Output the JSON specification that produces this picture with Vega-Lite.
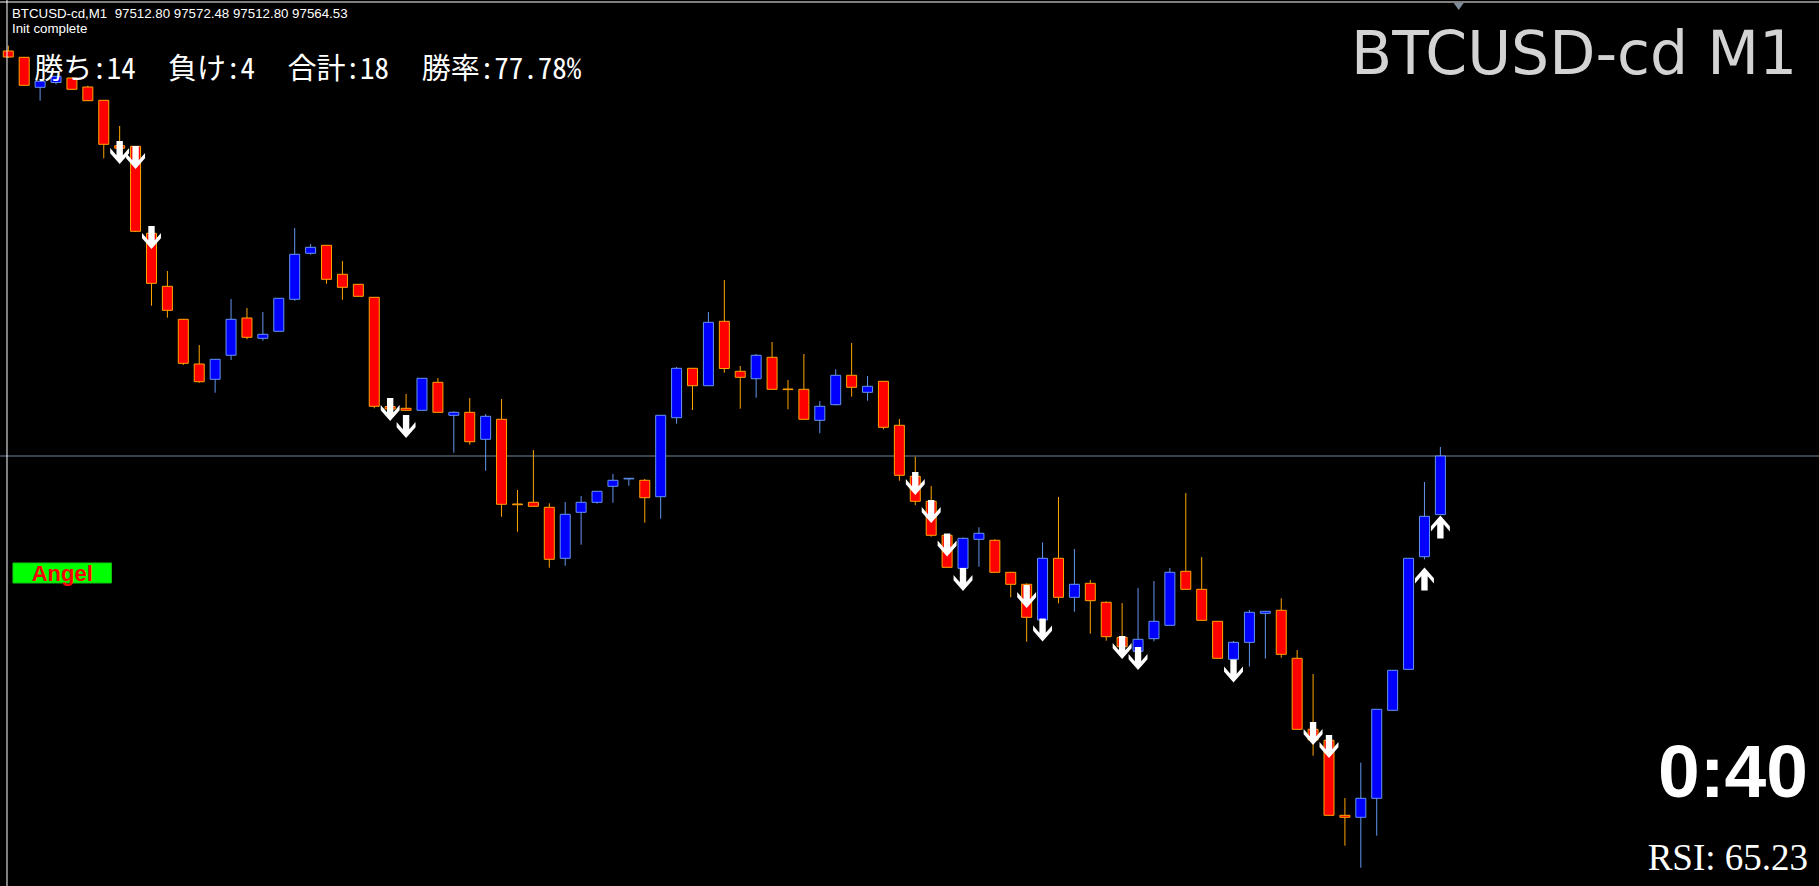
{
  "$schema": "https://vega.github.io/schema/vega-lite/v6.json",
  "width": 1819,
  "height": 886,
  "autosize": {"type": "none"},
  "padding": 0,
  "background": "#000000",
  "config": {"view": {"stroke": null}},
  "datasets": {
    "candles": [
      {"i": -1, "open": 97922.06, "high": 97926.74, "low": 97915.88, "close": 97916.77},
      {"i": 0, "open": 97916.50, "high": 97916.77, "low": 97891.61, "close": 97891.78},
      {"i": 1, "open": 97890.02, "high": 97895.58, "low": 97878.19, "close": 97895.31},
      {"i": 2, "open": 97894.26, "high": 97899.99, "low": 97892.67, "close": 97899.73},
      {"i": 3, "open": 97898.23, "high": 97898.67, "low": 97888.08, "close": 97888.25},
      {"i": 4, "open": 97890.28, "high": 97891.43, "low": 97877.92, "close": 97878.19},
      {"i": 5, "open": 97878.54, "high": 97878.81, "low": 97827.34, "close": 97839.70},
      {"i": 6, "open": 97838.46, "high": 97855.85, "low": 97834.67, "close": 97836.17},
      {"i": 7, "open": 97837.93, "high": 97838.20, "low": 97762.28, "close": 97762.90},
      {"i": 8, "open": 97761.13, "high": 97761.39, "low": 97697.21, "close": 97716.99},
      {"i": 9, "open": 97714.34, "high": 97727.85, "low": 97686.62, "close": 97693.15},
      {"i": 10, "open": 97685.21, "high": 97685.47, "low": 97644.86, "close": 97646.37},
      {"i": 11, "open": 97645.75, "high": 97662.52, "low": 97629.24, "close": 97630.12},
      {"i": 12, "open": 97632.24, "high": 97650.16, "low": 97620.41, "close": 97649.90},
      {"i": 13, "open": 97653.43, "high": 97703.13, "low": 97649.28, "close": 97685.21},
      {"i": 14, "open": 97686.36, "high": 97695.18, "low": 97667.55, "close": 97669.32},
      {"i": 15, "open": 97668.44, "high": 97691.65, "low": 97666.32, "close": 97671.97},
      {"i": 16, "open": 97674.61, "high": 97704.01, "low": 97674.44, "close": 97703.75},
      {"i": 17, "open": 97702.86, "high": 97765.81, "low": 97701.63, "close": 97742.59},
      {"i": 18, "open": 97743.47, "high": 97751.68, "low": 97742.24, "close": 97748.77},
      {"i": 19, "open": 97750.54, "high": 97750.80, "low": 97716.64, "close": 97720.52},
      {"i": 20, "open": 97724.93, "high": 97736.68, "low": 97702.51, "close": 97713.46},
      {"i": 21, "open": 97716.11, "high": 97716.37, "low": 97705.34, "close": 97705.51},
      {"i": 22, "open": 97704.63, "high": 97704.90, "low": 97606.64, "close": 97608.41},
      {"i": 23, "open": 97608.23, "high": 97610.44, "low": 97605.14, "close": 97606.02},
      {"i": 24, "open": 97606.64, "high": 97619.26, "low": 97604.70, "close": 97604.87},
      {"i": 25, "open": 97604.87, "high": 97633.39, "low": 97604.70, "close": 97633.12},
      {"i": 26, "open": 97629.59, "high": 97633.39, "low": 97602.93, "close": 97603.11},
      {"i": 27, "open": 97600.46, "high": 97603.99, "low": 97567.44, "close": 97603.11},
      {"i": 28, "open": 97603.11, "high": 97615.73, "low": 97574.51, "close": 97577.15},
      {"i": 29, "open": 97579.27, "high": 97601.61, "low": 97551.55, "close": 97599.58},
      {"i": 30, "open": 97596.93, "high": 97614.85, "low": 97510.94, "close": 97521.89},
      {"i": 31, "open": 97522.16, "high": 97534.51, "low": 97497.70, "close": 97521.50},
      {"i": 32, "open": 97523.66, "high": 97569.83, "low": 97519.95, "close": 97520.12},
      {"i": 33, "open": 97519.24, "high": 97522.77, "low": 97465.92, "close": 97473.34},
      {"i": 34, "open": 97474.22, "high": 97523.92, "low": 97467.69, "close": 97513.06},
      {"i": 35, "open": 97514.83, "high": 97529.22, "low": 97486.23, "close": 97523.66},
      {"i": 36, "open": 97523.66, "high": 97533.63, "low": 97522.42, "close": 97533.37},
      {"i": 37, "open": 97537.78, "high": 97548.64, "low": 97523.30, "close": 97543.08},
      {"i": 38, "open": 97544.30, "high": 97544.84, "low": 97538.31, "close": 97544.84},
      {"i": 39, "open": 97543.08, "high": 97544.23, "low": 97505.65, "close": 97527.72},
      {"i": 40, "open": 97528.60, "high": 97600.72, "low": 97509.18, "close": 97600.46},
      {"i": 41, "open": 97598.34, "high": 97643.10, "low": 97593.04, "close": 97641.95},
      {"i": 42, "open": 97641.95, "high": 97642.22, "low": 97605.14, "close": 97626.59},
      {"i": 43, "open": 97626.59, "high": 97691.65, "low": 97626.33, "close": 97682.56},
      {"i": 44, "open": 97683.44, "high": 97719.90, "low": 97638.07, "close": 97641.78},
      {"i": 45, "open": 97639.30, "high": 97643.98, "low": 97606.29, "close": 97634.01},
      {"i": 46, "open": 97632.77, "high": 97654.58, "low": 97616.00, "close": 97653.43},
      {"i": 47, "open": 97651.66, "high": 97665.17, "low": 97623.24, "close": 97623.41},
      {"i": 48, "open": 97623.68, "high": 97631.62, "low": 97605.76, "close": 97623.15},
      {"i": 49, "open": 97623.41, "high": 97654.58, "low": 97596.75, "close": 97596.93},
      {"i": 50, "open": 97596.05, "high": 97613.08, "low": 97584.57, "close": 97608.41},
      {"i": 51, "open": 97609.82, "high": 97641.07, "low": 97609.29, "close": 97635.77},
      {"i": 52, "open": 97635.77, "high": 97664.29, "low": 97616.88, "close": 97625.18},
      {"i": 53, "open": 97620.76, "high": 97635.15, "low": 97613.35, "close": 97626.06},
      {"i": 54, "open": 97630.48, "high": 97630.74, "low": 97588.10, "close": 97589.87},
      {"i": 55, "open": 97591.63, "high": 97597.19, "low": 97542.72, "close": 97547.49},
      {"i": 56, "open": 97546.61, "high": 97563.91, "low": 97521.01, "close": 97524.54},
      {"i": 57, "open": 97524.54, "high": 97538.05, "low": 97493.29, "close": 97494.52},
      {"i": 58, "open": 97494.52, "high": 97494.79, "low": 97466.10, "close": 97466.27},
      {"i": 59, "open": 97465.39, "high": 97492.58, "low": 97465.21, "close": 97491.88},
      {"i": 60, "open": 97490.99, "high": 97501.59, "low": 97466.80, "close": 97496.29},
      {"i": 61, "open": 97490.11, "high": 97490.99, "low": 97461.68, "close": 97461.86},
      {"i": 62, "open": 97461.86, "high": 97462.13, "low": 97439.79, "close": 97451.27},
      {"i": 63, "open": 97451.27, "high": 97452.15, "low": 97400.59, "close": 97422.13},
      {"i": 64, "open": 97419.75, "high": 97488.34, "low": 97419.49, "close": 97474.22},
      {"i": 65, "open": 97474.22, "high": 97528.34, "low": 97434.49, "close": 97439.79},
      {"i": 66, "open": 97439.79, "high": 97482.43, "low": 97427.08, "close": 97451.27},
      {"i": 67, "open": 97452.15, "high": 97455.06, "low": 97407.66, "close": 97436.79},
      {"i": 68, "open": 97435.38, "high": 97436.26, "low": 97401.48, "close": 97405.01},
      {"i": 69, "open": 97404.48, "high": 97434.76, "low": 97395.92, "close": 97396.18},
      {"i": 70, "open": 97392.12, "high": 97448.00, "low": 97391.94, "close": 97402.71},
      {"i": 71, "open": 97403.24, "high": 97454.18, "low": 97400.95, "close": 97418.60},
      {"i": 72, "open": 97415.07, "high": 97465.66, "low": 97414.90, "close": 97461.86},
      {"i": 73, "open": 97462.74, "high": 97531.87, "low": 97446.68, "close": 97446.85},
      {"i": 74, "open": 97446.85, "high": 97475.37, "low": 97419.31, "close": 97419.49},
      {"i": 75, "open": 97418.60, "high": 97418.87, "low": 97385.76, "close": 97385.94},
      {"i": 76, "open": 97385.06, "high": 97401.21, "low": 97384.88, "close": 97400.06},
      {"i": 77, "open": 97400.06, "high": 97428.58, "low": 97378.52, "close": 97426.55},
      {"i": 78, "open": 97425.67, "high": 97427.70, "low": 97385.59, "close": 97427.43},
      {"i": 79, "open": 97428.31, "high": 97438.91, "low": 97386.47, "close": 97389.47},
      {"i": 80, "open": 97385.94, "high": 97393.27, "low": 97323.08, "close": 97323.26},
      {"i": 81, "open": 97323.26, "high": 97372.08, "low": 97299.95, "close": 97313.81},
      {"i": 82, "open": 97313.55, "high": 97313.81, "low": 97247.16, "close": 97247.34},
      {"i": 83, "open": 97247.34, "high": 97262.61, "low": 97220.50, "close": 97245.57},
      {"i": 84, "open": 97245.57, "high": 97293.78, "low": 97201.08, "close": 97262.35},
      {"i": 85, "open": 97262.35, "high": 97341.18, "low": 97229.33, "close": 97340.92},
      {"i": 86, "open": 97340.03, "high": 97375.61, "low": 97339.86, "close": 97375.35},
      {"i": 87, "open": 97376.23, "high": 97474.48, "low": 97376.05, "close": 97474.22},
      {"i": 88, "open": 97475.63, "high": 97541.58, "low": 97473.34, "close": 97511.30},
      {"i": 89, "open": 97512.80, "high": 97572.48, "low": 97512.80, "close": 97564.53}
    ],
    "arrows": [
      {"i": 6, "dir": "down", "price": 97832.46},
      {"i": 7, "dir": "down", "price": 97828.05},
      {"i": 8, "dir": "down", "price": 97757.42},
      {"i": 23, "dir": "down", "price": 97605.58},
      {"i": 24, "dir": "down", "price": 97590.57},
      {"i": 56, "dir": "down", "price": 97540.25},
      {"i": 57, "dir": "down", "price": 97515.53},
      {"i": 58, "dir": "down", "price": 97485.96},
      {"i": 59, "dir": "down", "price": 97455.50},
      {"i": 63, "dir": "down", "price": 97440.50},
      {"i": 64, "dir": "down", "price": 97410.92},
      {"i": 69, "dir": "down", "price": 97395.47},
      {"i": 70, "dir": "down", "price": 97385.76},
      {"i": 76, "dir": "down", "price": 97374.73},
      {"i": 81, "dir": "down", "price": 97319.55},
      {"i": 82, "dir": "down", "price": 97308.08},
      {"i": 88, "dir": "up", "price": 97455.95},
      {"i": 89, "dir": "up", "price": 97501.85}
    ]
  },
  "layer": [
    {
      "data": {"values": [{"price": 97564.53}]},
      "mark": {"type": "rule", "color": "#778899", "strokeWidth": 1},
      "encoding": {
        "y": {"field": "price", "type": "quantitative", "axis": null, "scale": {"domain": [97184.93, 97967.09], "nice": false, "zero": false}}
      }
    },
    {
      "data": {"name": "candles"},
      "mark": {"type": "rule", "strokeWidth": 1},
      "encoding": {
        "x": {"field": "i", "type": "quantitative", "axis": null, "scale": {"domain": [-1.206, 112.48], "nice": false, "zero": false}},
        "y": {"field": "low", "type": "quantitative", "axis": null, "scale": {"domain": [97184.93, 97967.09], "nice": false, "zero": false}},
        "y2": {"field": "high"},
        "color": {"condition": {"test": "datum.close >= datum.open", "value": "#6495ed"}, "value": "#ffa500"}
      }
    },
    {
      "data": {"name": "candles"},
      "mark": {"type": "bar", "width": 10, "strokeWidth": 1, "orient": "vertical"},
      "encoding": {
        "x": {"field": "i", "type": "quantitative", "axis": null, "scale": {"domain": [-1.206, 112.48], "nice": false, "zero": false}},
        "y": {"field": "open", "type": "quantitative", "axis": null, "scale": {"domain": [97184.93, 97967.09], "nice": false, "zero": false}},
        "y2": {"field": "close"},
        "fill": {"condition": {"test": "datum.close >= datum.open", "value": "#0000ff"}, "value": "#ff0000"},
        "stroke": {"condition": {"test": "datum.close >= datum.open", "value": "#6495ed"}, "value": "#ffa500"}
      }
    },
    {
      "data": {"name": "arrows"},
      "mark": {"type": "point", "filled": true, "color": "#ffffff", "opacity": 1, "size": 520, "strokeWidth": 0},
      "encoding": {
        "x": {"field": "i", "type": "quantitative", "axis": null, "scale": {"domain": [-1.206, 112.48], "nice": false, "zero": false}},
        "y": {"field": "price", "type": "quantitative", "axis": null, "scale": {"domain": [97184.93, 97967.09], "nice": false, "zero": false}},
        "shape": {"field": "dir", "type": "nominal", "legend": null, "scale": {"domain": ["down", "up"], "range": ["M-0.28,-1L0.28,-1L0.28,0.25L0.83,-0.4L0.83,0.06L0,1L-0.83,0.06L-0.83,-0.4L-0.28,0.25Z", "M-0.28,1L0.28,1L0.28,-0.25L0.83,0.4L0.83,-0.06L0,-1L-0.83,-0.06L-0.83,0.4L-0.28,-0.25Z"]}}
      }
    },
    {
      "data": {"values": [{"edge": "top"}]},
      "mark": {"type": "rule", "color": "#ffffff", "strokeWidth": 1},
      "encoding": {
        "y": {"datum": 97965.32, "type": "quantitative", "axis": null, "scale": {"domain": [97184.93, 97967.09], "nice": false, "zero": false}}
      }
    },
    {
      "data": {"values": [{"edge": "left"}]},
      "mark": {"type": "rule", "color": "#ffffff", "strokeWidth": 1},
      "encoding": {
        "x": {"datum": -1.081, "type": "quantitative", "axis": null, "scale": {"domain": [-1.206, 112.48], "nice": false, "zero": false}}
      }
    },
    {
      "data": {"values": [{"marker": "shift"}]},
      "mark": {"type": "point", "filled": true, "color": "#7f8c99", "opacity": 1, "size": 100, "shape": "M-1,-0.7L1,-0.7L0,0.7Z"},
      "encoding": {
        "x": {"datum": 90.15, "type": "quantitative", "axis": null, "scale": {"domain": [-1.206, 112.48], "nice": false, "zero": false}},
        "y": {"datum": 97961.35, "type": "quantitative", "axis": null, "scale": {"domain": [97184.93, 97967.09], "nice": false, "zero": false}}
      }
    },
    {
      "data": {"values": [{"t": "BTCUSD-cd,M1\u00a0\u00a097512.80 97572.48 97512.80 97564.53"}]},
      "mark": {"type": "text", "align": "left", "baseline": "alphabetic", "font": "Liberation Sans", "fontSize": 13.3, "color": "#ffffff"},
      "encoding": {
        "x": {"datum": -0.769, "type": "quantitative", "axis": null, "scale": {"domain": [-1.206, 112.48], "nice": false, "zero": false}},
        "y": {"datum": 97951.2, "type": "quantitative", "axis": null, "scale": {"domain": [97184.93, 97967.09], "nice": false, "zero": false}},
        "text": {"field": "t"}
      }
    },
    {
      "data": {"values": [{"t": "Init complete"}]},
      "mark": {"type": "text", "align": "left", "baseline": "alphabetic", "font": "Liberation Sans", "fontSize": 13.3, "color": "#ffffff"},
      "encoding": {
        "x": {"datum": -0.769, "type": "quantitative", "axis": null, "scale": {"domain": [-1.206, 112.48], "nice": false, "zero": false}},
        "y": {"datum": 97937.96, "type": "quantitative", "axis": null, "scale": {"domain": [97184.93, 97967.09], "nice": false, "zero": false}},
        "text": {"field": "t"}
      }
    },
    {
      "data": {"values": [{"t": "勝ち:14"}]},
      "mark": {"type": "text", "align": "left", "baseline": "alphabetic", "font": "'Noto Sans Mono CJK JP', 'Noto Sans CJK JP'", "fontSize": 29, "color": "#ffffff"},
      "encoding": {
        "x": {"datum": 0.6375, "type": "quantitative", "axis": null, "scale": {"domain": [-1.206, 112.48], "nice": false, "zero": false}},
        "y": {"datum": 97896.91, "type": "quantitative", "axis": null, "scale": {"domain": [97184.93, 97967.09], "nice": false, "zero": false}},
        "text": {"field": "t"}
      }
    },
    {
      "data": {"values": [{"t": "負け:4"}]},
      "mark": {"type": "text", "align": "left", "baseline": "alphabetic", "font": "'Noto Sans Mono CJK JP', 'Noto Sans CJK JP'", "fontSize": 29, "color": "#ffffff"},
      "encoding": {
        "x": {"datum": 9.044, "type": "quantitative", "axis": null, "scale": {"domain": [-1.206, 112.48], "nice": false, "zero": false}},
        "y": {"datum": 97896.91, "type": "quantitative", "axis": null, "scale": {"domain": [97184.93, 97967.09], "nice": false, "zero": false}},
        "text": {"field": "t"}
      }
    },
    {
      "data": {"values": [{"t": "合計:18"}]},
      "mark": {"type": "text", "align": "left", "baseline": "alphabetic", "font": "'Noto Sans Mono CJK JP', 'Noto Sans CJK JP'", "fontSize": 29, "color": "#ffffff"},
      "encoding": {
        "x": {"datum": 16.544, "type": "quantitative", "axis": null, "scale": {"domain": [-1.206, 112.48], "nice": false, "zero": false}},
        "y": {"datum": 97896.91, "type": "quantitative", "axis": null, "scale": {"domain": [97184.93, 97967.09], "nice": false, "zero": false}},
        "text": {"field": "t"}
      }
    },
    {
      "data": {"values": [{"t": "勝率:77.78%"}]},
      "mark": {"type": "text", "align": "left", "baseline": "alphabetic", "font": "'Noto Sans Mono CJK JP', 'Noto Sans CJK JP'", "fontSize": 29, "color": "#ffffff"},
      "encoding": {
        "x": {"datum": 24.98, "type": "quantitative", "axis": null, "scale": {"domain": [-1.206, 112.48], "nice": false, "zero": false}},
        "y": {"datum": 97896.91, "type": "quantitative", "axis": null, "scale": {"domain": [97184.93, 97967.09], "nice": false, "zero": false}},
        "text": {"field": "t"}
      }
    },
    {
      "data": {"values": [{"t": "BTCUSD-cd M1"}]},
      "mark": {"type": "text", "align": "right", "baseline": "alphabetic", "font": "DejaVu Sans", "fontSize": 60, "color": "#d3d3d3"},
      "encoding": {
        "x": {"datum": 111.42, "type": "quantitative", "axis": null, "scale": {"domain": [-1.206, 112.48], "nice": false, "zero": false}},
        "y": {"datum": 97901.76, "type": "quantitative", "axis": null, "scale": {"domain": [97184.93, 97967.09], "nice": false, "zero": false}},
        "text": {"field": "t"}
      }
    },
    {
      "data": {"values": [{"label": "Angel"}]},
      "mark": {"type": "rect", "fill": "#00ff00", "stroke": "#14c814", "strokeWidth": 1},
      "encoding": {
        "x": {"datum": -0.706, "type": "quantitative", "axis": null, "scale": {"domain": [-1.206, 112.48], "nice": false, "zero": false}},
        "x2": {"datum": 5.481},
        "y": {"datum": 97470.07, "type": "quantitative", "axis": null, "scale": {"domain": [97184.93, 97967.09], "nice": false, "zero": false}},
        "y2": {"datum": 97452.43}
      }
    },
    {
      "data": {"values": [{"t": "Angel"}]},
      "mark": {"type": "text", "align": "center", "baseline": "alphabetic", "font": "Liberation Sans", "fontWeight": "bold", "fontSize": 22, "color": "#ff0000"},
      "encoding": {
        "x": {"datum": 2.388, "type": "quantitative", "axis": null, "scale": {"domain": [-1.206, 112.48], "nice": false, "zero": false}},
        "y": {"datum": 97454.19, "type": "quantitative", "axis": null, "scale": {"domain": [97184.93, 97967.09], "nice": false, "zero": false}},
        "text": {"field": "t"}
      }
    },
    {
      "data": {"values": [{"t": "0:40"}]},
      "mark": {"type": "text", "align": "right", "baseline": "alphabetic", "font": "Liberation Sans", "fontWeight": "bold", "fontSize": 75, "color": "#ffffff"},
      "encoding": {
        "x": {"datum": 112.106, "type": "quantitative", "axis": null, "scale": {"domain": [-1.206, 112.48], "nice": false, "zero": false}},
        "y": {"datum": 97263.5, "type": "quantitative", "axis": null, "scale": {"domain": [97184.93, 97967.09], "nice": false, "zero": false}},
        "text": {"field": "t"}
      }
    },
    {
      "data": {"values": [{"t": "RSI: 65.23"}]},
      "mark": {"type": "text", "align": "right", "baseline": "alphabetic", "font": "Liberation Serif", "fontSize": 37, "color": "#ffffff"},
      "encoding": {
        "x": {"datum": 112.106, "type": "quantitative", "axis": null, "scale": {"domain": [-1.206, 112.48], "nice": false, "zero": false}},
        "y": {"datum": 97199.05, "type": "quantitative", "axis": null, "scale": {"domain": [97184.93, 97967.09], "nice": false, "zero": false}},
        "text": {"field": "t"}
      }
    }
  ]
}
